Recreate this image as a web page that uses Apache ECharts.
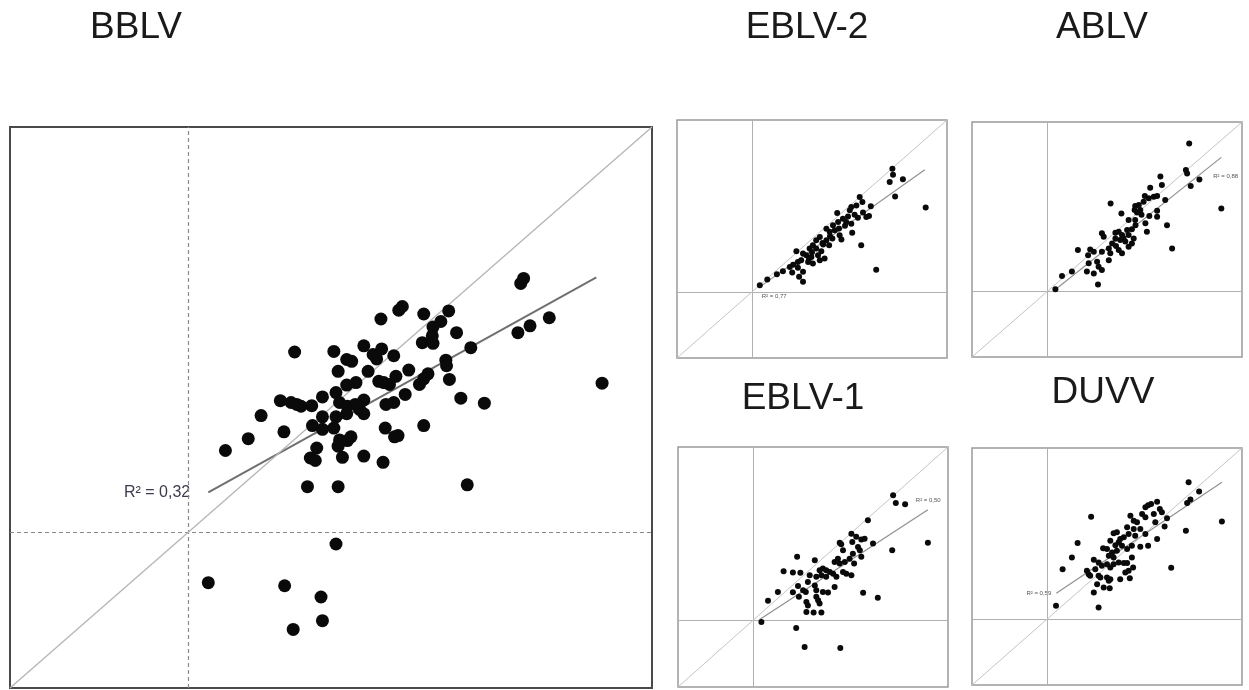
<!DOCTYPE html>
<html>
<head>
<meta charset="utf-8">
<script src="https://cdn.jsdelivr.net/npm/echarts@6/dist/echarts.min.js"></script>
<style>
html,body{margin:0;padding:0;background:#fff;}
#main{width:1249px;height:690px;}
</style>
</head>
<body>
<div id="main"></div>
<script>
// ---- data ----
const panelNames = ['BBLV', 'EBLV-2', 'ABLV', 'EBLV-1', 'DUVV'];
const r2Labels = ['R\u00B2 = 0,32', 'R\u00B2 = 0,77', 'R\u00B2 = 0,88', 'R\u00B2 = 0,50', 'R\u00B2 = 0,59'];
const axisMin = -2.5;
const axisMax = 6.5;

const bblvPoints = [
[1.49,2.89],[2.04,2.90],[2.46,2.99],[2.70,3.42],[2.95,3.56],[3.00,3.62],[3.30,3.50],[3.65,3.55],
[3.54,3.38],[3.43,3.29],[3.76,3.20],[3.28,3.04],[3.43,3.03],[3.42,3.15],[3.96,2.96],[4.66,3.99],
[4.70,4.07],[4.62,3.20],[4.79,3.31],[5.06,3.44],[5.80,2.39],[2.22,2.77],[2.29,2.74],[2.59,2.85],
[2.64,2.78],[2.71,2.94],[2.88,2.83],[2.10,2.58],[2.52,2.58],[3.09,2.60],[3.61,2.76],[3.62,2.67],
[3.66,2.45],[3.36,2.54],[3.24,2.37],[3.30,2.46],[3.82,2.15],[4.15,2.07],[2.91,2.50],[2.82,2.37],
[2.67,2.42],[2.74,2.40],[2.22,2.36],[2.35,2.40],[2.07,2.24],[1.88,2.17],[1.29,2.11],[1.44,2.08],
[1.58,2.02],[1.73,2.03],[1.52,2.05],[1.02,1.87],[2.12,2.08],[2.23,2.02],[2.34,2.05],[2.46,2.12],
[2.40,1.97],[2.77,2.05],[2.88,2.08],[3.04,2.21],[1.88,1.85],[2.07,1.85],[2.22,1.90],[2.46,1.90],
[1.74,1.71],[1.88,1.65],[2.04,1.67],[1.34,1.61],[0.84,1.50],[0.52,1.31],[3.30,1.71],[2.76,1.67],
[2.89,1.53],[2.94,1.55],[2.12,1.48],[2.28,1.53],[2.10,1.38],[2.23,1.47],[1.80,1.35],[1.71,1.19],
[1.78,1.15],[2.16,1.20],[2.46,1.22],[2.73,1.12],[1.67,0.73],[2.10,0.73],[3.91,0.76],[2.07,-0.19],
[0.28,-0.81],[1.35,-0.86],[1.86,-1.04],[1.88,-1.42],[1.47,-1.56]
];

const eblv2Points = [
[4.68,4.66],[4.70,4.43],[4.59,4.16],[5.03,4.26],[4.77,3.61],[5.79,3.19],[3.59,3.59],[3.68,3.40],
[3.48,3.27],[3.31,3.21],[3.96,3.24],[3.26,3.09],[3.42,2.92],[3.53,2.80],[3.81,2.83],[3.90,2.87],
[2.84,2.98],[3.03,2.77],[3.14,2.64],[2.87,2.64],[2.70,2.52],[3.31,2.58],[3.34,2.24],[3.64,1.76],
[4.14,0.84],[2.48,2.39],[2.59,2.27],[2.76,2.33],[2.92,2.14],[2.98,1.98],[2.68,2.02],[2.48,1.95],
[2.37,1.79],[2.26,2.08],[2.14,1.95],[2.57,1.76],[1.48,1.54],[1.92,1.64],[2.03,1.76],[2.14,1.64],
[2.31,1.54],[2.42,1.26],[2.20,1.39],[1.98,1.32],[1.81,1.39],[1.70,1.45],[1.87,1.13],[1.64,1.20],
[1.53,1.13],[1.37,1.03],[1.26,0.94],[1.34,0.73],[1.53,0.91],[1.70,0.76],[1.57,0.57],[1.70,0.38],
[1.03,0.78],[0.83,0.67],[0.51,0.47],[0.26,0.25],[2.03,1.07],[2.26,1.20],[2.60,2.10],[2.90,2.40],
[3.10,2.50],[2.00,1.50],[2.35,1.85],[3.70,3.00],[3.20,2.85],[1.90,1.25]
];

const ablvPoints = [
[4.74,5.68],[4.63,4.66],[4.67,4.53],[5.08,4.30],[4.79,4.05],[5.81,3.19],[3.78,4.41],[3.83,4.09],
[3.44,3.98],[3.26,3.67],[3.39,3.58],[3.56,3.64],[3.67,3.67],[3.94,3.51],[3.22,3.45],[3.06,3.32],
[2.94,3.28],[2.92,3.13],[3.11,3.13],[3.00,3.03],[2.12,3.38],[2.48,3.00],[2.72,2.75],[2.94,2.75],
[3.28,2.62],[3.41,2.90],[3.67,3.10],[3.67,2.87],[4.00,2.55],[4.17,1.66],[3.33,2.30],[2.28,2.26],
[2.39,2.30],[2.50,2.17],[2.67,2.36],[2.83,2.39],[2.72,2.17],[2.89,2.04],[2.83,1.85],[2.61,1.92],
[2.44,1.98],[2.28,2.04],[2.17,1.85],[2.06,1.66],[2.11,1.47],[1.83,2.24],[1.89,2.11],[2.39,1.60],
[2.50,1.47],[2.72,1.72],[1.03,1.60],[1.44,1.62],[1.56,1.53],[1.37,1.40],[1.83,1.53],[2.06,1.21],
[1.67,1.15],[1.72,0.96],[1.83,0.83],[1.39,1.09],[1.56,0.70],[1.33,0.77],[0.83,0.77],[0.50,0.60],
[0.28,0.09],[1.70,0.28],[2.55,2.05],[2.95,2.55],[2.30,1.75],[3.15,2.95]
];

const eblv1Points = [
[4.67,4.69],[4.76,4.40],[5.07,4.35],[5.83,2.91],[4.64,2.63],[3.83,3.75],[3.28,3.25],[3.44,3.13],
[3.61,3.03],[3.72,3.06],[4.00,2.88],[3.31,2.94],[3.50,2.75],[3.56,2.63],[2.89,2.91],[2.94,2.85],
[3.00,2.63],[3.33,2.50],[3.61,2.38],[3.22,2.31],[3.37,2.13],[2.83,2.31],[2.72,2.19],[2.89,2.13],
[3.06,2.19],[3.11,1.75],[3.28,1.69],[3.00,1.81],[2.78,1.63],[2.67,1.75],[2.56,1.81],[2.44,1.88],
[2.33,1.94],[2.22,1.88],[2.06,2.25],[1.47,2.38],[1.02,1.84],[1.33,1.79],[1.58,1.78],[1.89,1.69],
[2.11,1.63],[2.28,1.69],[2.44,1.63],[1.83,1.44],[2.06,1.31],[2.11,1.13],[2.33,1.06],[2.50,1.04],
[2.72,1.25],[1.50,1.29],[1.67,1.13],[1.76,1.06],[1.33,1.05],[0.83,1.06],[0.50,0.73],[1.53,0.88],
[1.78,0.69],[2.11,0.88],[2.17,0.75],[2.22,0.63],[1.83,0.56],[1.78,0.31],[2.02,0.29],[2.28,0.29],
[3.67,1.03],[4.16,0.85],[0.28,-0.06],[1.44,-0.29],[1.72,-1.00],[2.91,-1.04]
];

const duvvPoints = [
[4.72,5.20],[5.07,4.85],[4.78,4.54],[4.67,4.41],[5.83,3.71],[4.63,3.36],[4.14,1.95],[3.37,4.33],
[3.47,4.37],[3.67,4.46],[3.76,4.18],[3.83,4.06],[4.00,3.83],[3.56,3.99],[3.28,4.25],[3.17,3.99],
[3.61,3.68],[3.92,3.52],[3.67,3.04],[3.28,3.23],[2.94,3.17],[3.11,3.42],[3.28,3.87],[2.78,3.93],
[2.89,3.74],[3.00,3.68],[2.67,3.49],[2.89,3.42],[2.72,3.23],[2.56,3.11],[2.44,3.04],[2.33,3.30],
[2.22,3.26],[2.39,2.92],[2.50,2.79],[2.67,2.66],[2.83,2.79],[3.11,2.75],[3.37,2.79],[1.47,3.89],
[1.02,2.89],[0.83,2.34],[0.52,1.90],[2.11,2.98],[2.28,2.81],[2.33,2.60],[2.17,2.53],[2.06,2.41],
[2.00,2.66],[1.87,2.69],[2.22,2.34],[2.39,2.15],[2.56,2.13],[2.67,2.13],[2.83,2.34],[2.87,1.96],
[1.56,2.26],[1.72,2.15],[1.83,2.03],[2.00,2.09],[2.11,1.96],[2.22,2.09],[1.33,1.84],[1.39,1.71],
[1.44,1.65],[1.61,1.90],[1.72,1.65],[1.78,1.58],[2.00,1.58],[2.11,1.52],[2.06,1.46],[2.44,1.52],
[2.61,1.77],[2.72,1.84],[2.76,1.55],[1.67,1.33],[1.89,1.20],[2.09,1.17],[1.56,1.01],[1.72,0.44],
[0.30,0.51]
];

// regression fits: [xStart, xEnd, slope, intercept]
const bblvFit  = [0.28, 5.72, 0.634, 0.46];
const eblv2Fit = [0.26, 5.76, 0.805, -0.02];
const ablvFit  = [0.28, 5.81, 0.915, -0.17];
const eblv1Fit = [0.22, 5.83, 0.734, -0.13];
const duvvFit  = [0.31, 5.83, 0.763, 0.75];

// ---- layout / style ----
const allPoints = [bblvPoints, eblv2Points, ablvPoints, eblv1Points, duvvPoints];
const allFits = [bblvFit, eblv2Fit, ablvFit, eblv1Fit, duvvFit];

const grids = [
  {left:10,  top:127, width:642, height:561},
  {left:677, top:120, width:270, height:238},
  {left:972, top:122, width:270, height:235},
  {left:678, top:447, width:270, height:240},
  {left:972, top:448, width:270, height:237}
];
const titlePos = [[136,28],[807,28],[1102,28],[803,399],[1103,393]];
// label: which end of fit line (0=start,1=end), and placement
const labelCfg = [
  {end:0, position:'left', distance:18, fontSize:16, color:'#3b3b4f'},
  {end:0, position:[2,7], fontSize:6, color:'#555'},
  {end:1, position:[-8,16], fontSize:6, color:'#555'},
  {end:1, position:[-12,-12], fontSize:6, color:'#555'},
  {end:0, position:'left', distance:5, fontSize:6, color:'#555'}
];

const chart = echarts.init(document.getElementById('main'), null, {renderer:'canvas'});

const gridOpts = [], xAxes = [], yAxes = [], series = [];
grids.forEach((g, i) => {
  const big = i === 0;
  gridOpts.push(Object.assign({show:true, borderColor: big ? '#4a4a4a' : '#9a9a9a',
    borderWidth: big ? 2 : 1.5, backgroundColor:'#fff', containLabel:false}, g));
  const ax = {gridIndex:i, type:'value', min:axisMin, max:axisMax,
    axisLine:{show:false}, axisTick:{show:false}, axisLabel:{show:false}, splitLine:{show:false}};
  xAxes.push(Object.assign({}, ax));
  yAxes.push(Object.assign({}, ax));

  series.push({
    type:'scatter', xAxisIndex:i, yAxisIndex:i,
    data: allPoints[i],
    symbolSize: big ? 13 : 6,
    itemStyle:{color:'#0a0a0a', opacity:1},
    silent:true, z:5,
    markLine:{
      silent:true, symbol:'none', label:{show:false}, animation:false,
      data:[
        {xAxis:0, lineStyle:{color: big ? '#8a8a8a' : '#b0b0b0', type: big ? [4,3] : 'solid', width: big ? 1.2 : 1}},
        {yAxis:0, lineStyle:{color: big ? '#8a8a8a' : '#b0b0b0', type: big ? [4,3] : 'solid', width: big ? 1.2 : 1}},
        [{coord:[axisMin, axisMin], lineStyle:{color: big ? '#b5b5b5' : '#c4c4c4', type:'solid', width: big ? 1.3 : 1}},
         {coord:[axisMax, axisMax]}]
      ]
    }
  });

  const f = allFits[i];
  const pts = [[f[0], f[2]*f[0]+f[3]], [f[1], f[2]*f[1]+f[3]]];
  const lc = labelCfg[i];
  const data = pts.map((p, k) => {
    const item = {value:p};
    if (k === lc.end) {
      item.label = {show:true, formatter:r2Labels[i], position:lc.position,
        distance: lc.distance || 5, fontSize:lc.fontSize, color:lc.color,
        fontFamily:'Liberation Sans, Arial, sans-serif'};
    }
    return item;
  });
  series.push({
    type:'line', xAxisIndex:i, yAxisIndex:i, data:data,
    symbol:'circle', symbolSize:0.1, showSymbol:true,
    itemStyle:{color:'transparent'},
    lineStyle:{color: big ? '#707070' : '#909090', width: big ? 2 : 1.2},
    silent:true, z:4, animation:false
  });
});

const graphics = panelNames.map((n, i) => ({
  type:'text', x:titlePos[i][0], y:titlePos[i][1], silent:true,
  style:{text:n, fill:'#1a1a1a', font:'37px "Liberation Sans", Arial, sans-serif',
    textAlign:'center', textVerticalAlign:'middle', align:'center', verticalAlign:'middle'}
}));

chart.setOption({
  animation:false,
  backgroundColor:'#ffffff',
  grid:gridOpts, xAxis:xAxes, yAxis:yAxes, series:series,
  graphic:graphics
});
</script>
</body>
</html>
